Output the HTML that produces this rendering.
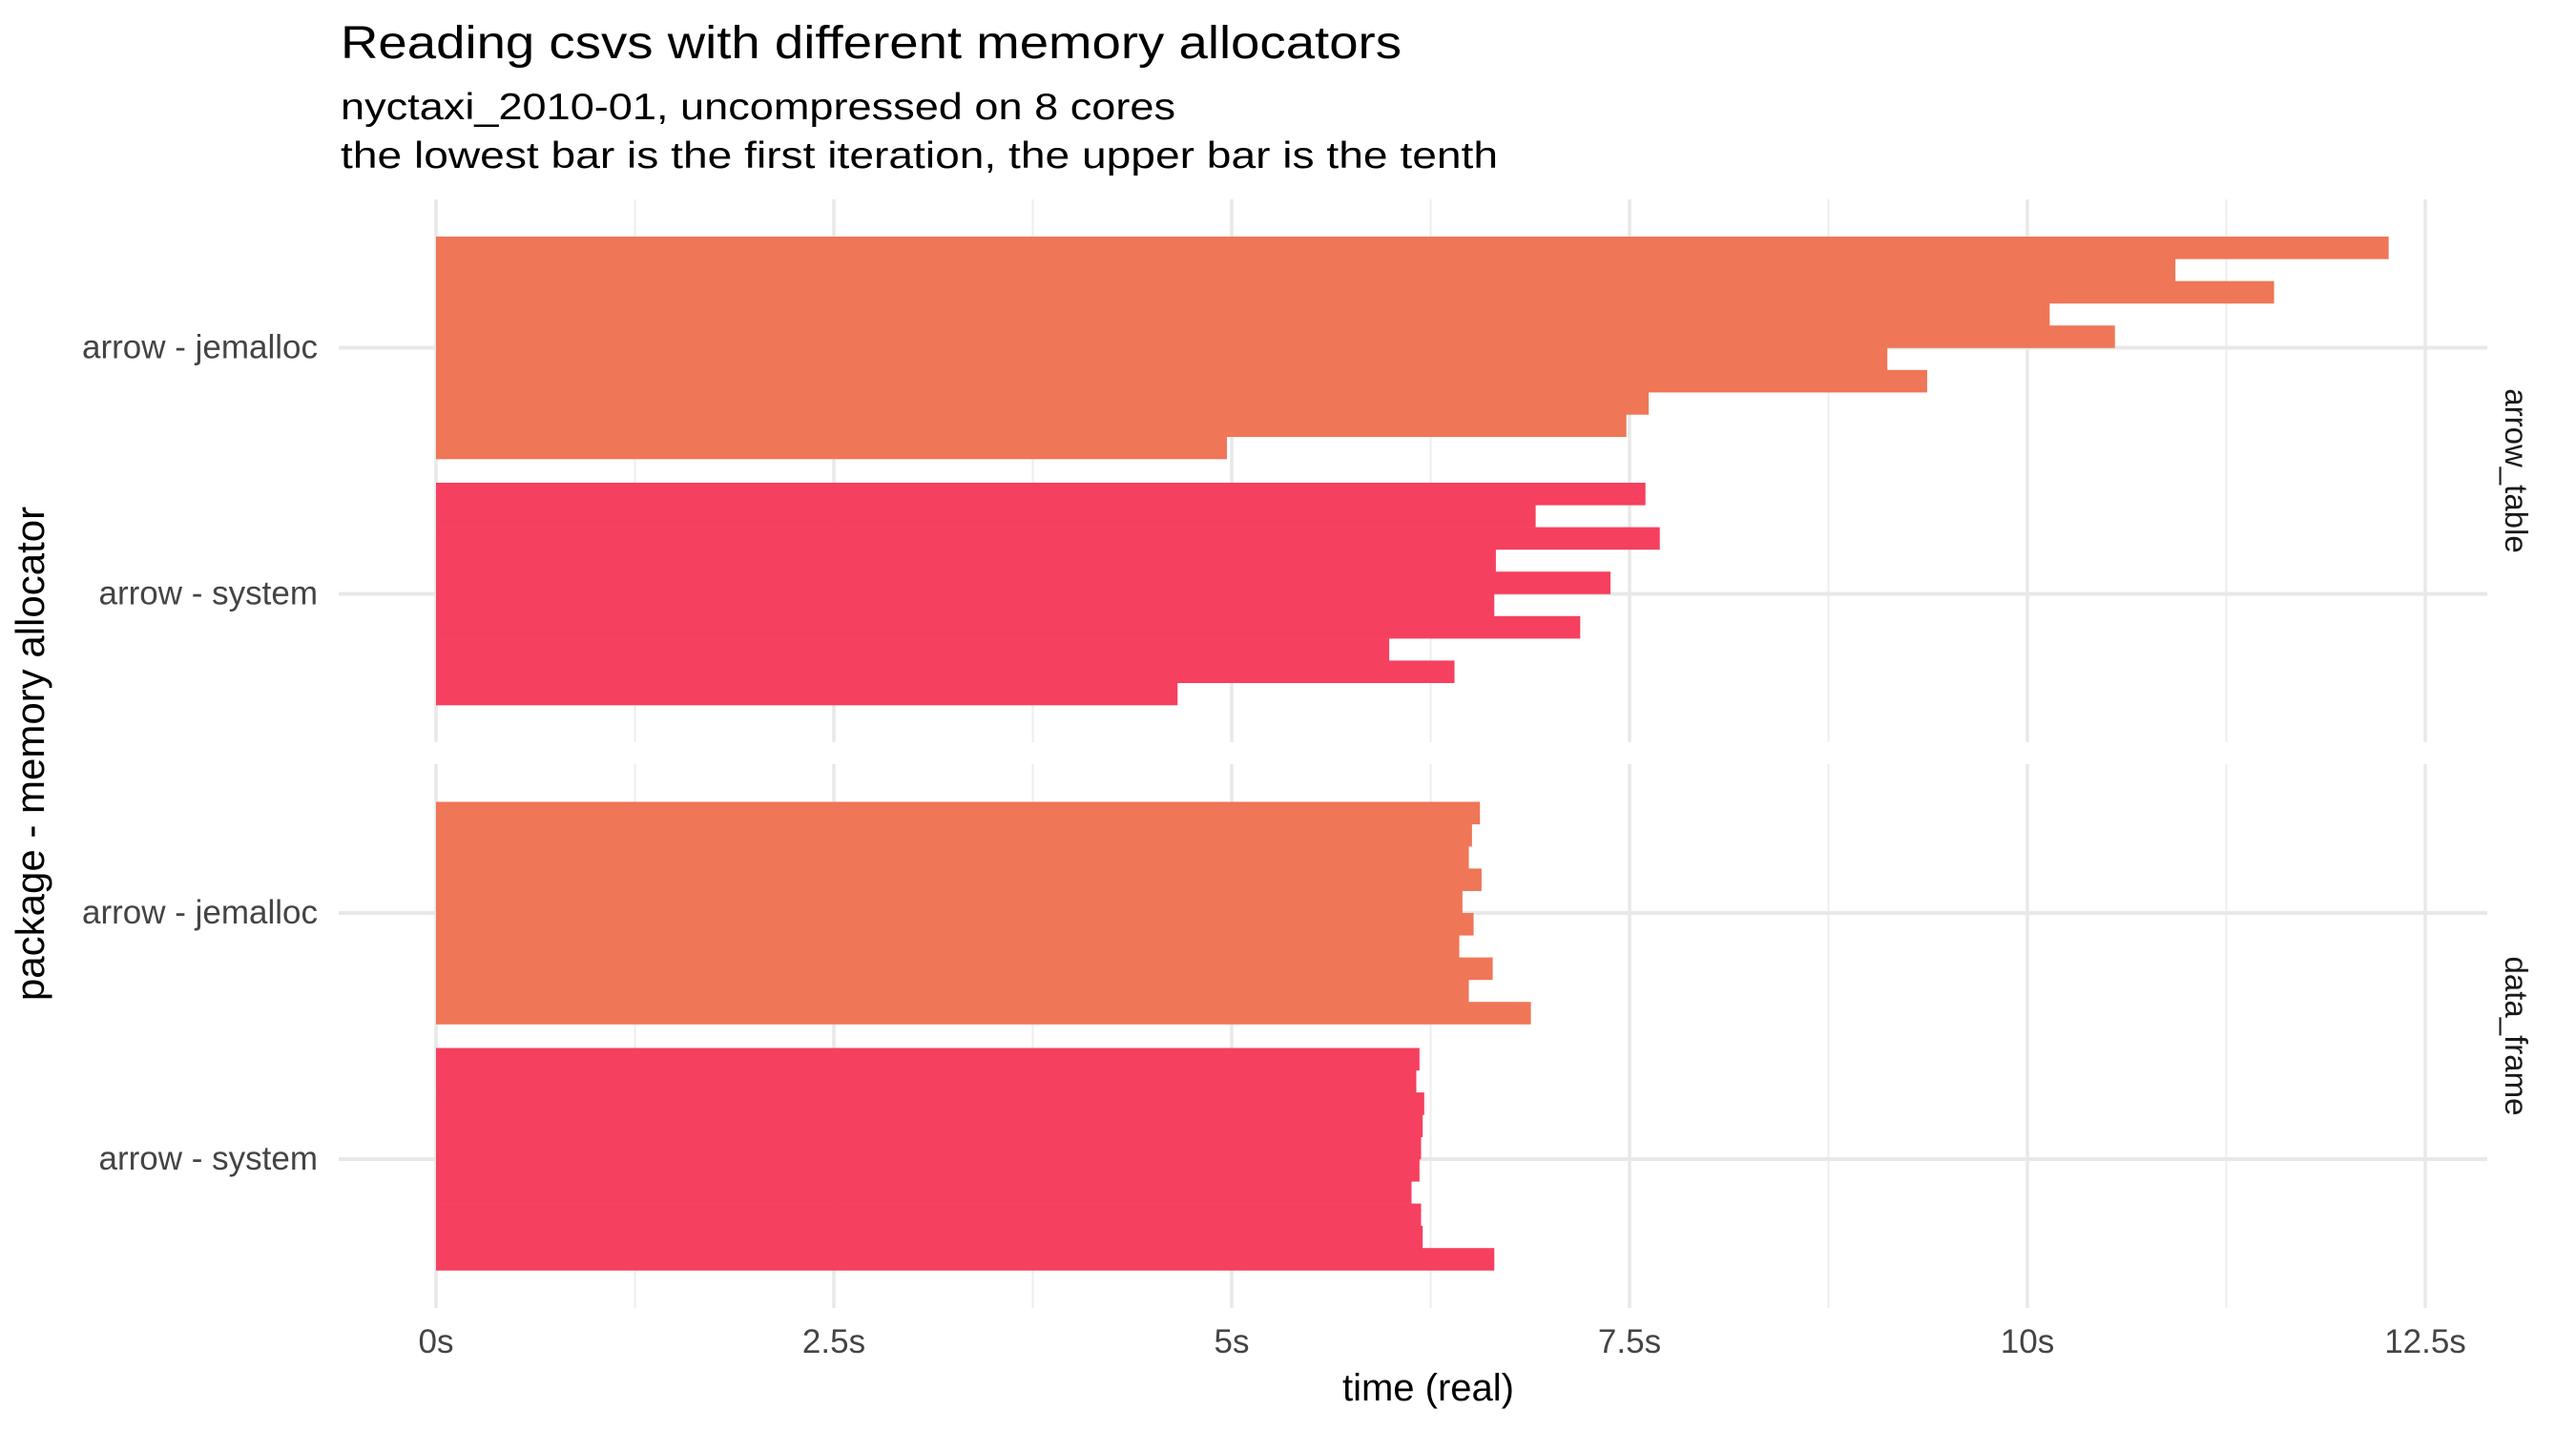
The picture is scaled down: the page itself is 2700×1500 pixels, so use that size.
<!DOCTYPE html>
<html><head><meta charset="utf-8"><style>
html,body{margin:0;padding:0;background:#fff;}
svg{display:block;font-family:"Liberation Sans",sans-serif;}
</style></head><body>
<svg id="chart" width="2700" height="1500" viewBox="0 0 2700 1500" xmlns="http://www.w3.org/2000/svg">
<text x="357" y="61" font-size="48" fill="#000" textLength="1112" lengthAdjust="spacingAndGlyphs">Reading csvs with different memory allocators</text>
<text x="357" y="125" font-size="39" fill="#000" textLength="875" lengthAdjust="spacingAndGlyphs">nyctaxi_2010-01, uncompressed on 8 cores</text>
<text x="357" y="176" font-size="39" fill="#000" textLength="1213" lengthAdjust="spacingAndGlyphs">the lowest bar is the first iteration, the upper bar is the tenth</text>
<g id="grid"></g>
<g id="bars"></g>
<g id="labels"></g>
<text x="1497" y="1468" font-size="40" text-anchor="middle" fill="#000">time (real)</text>
<text transform="translate(46,790) rotate(-90)" font-size="42" text-anchor="middle" fill="#000">package - memory allocator</text>
</svg>
<script>
const panels = ["arrow_table", "data_frame"];
const categories = ["arrow - jemalloc", "arrow - system"];
// values per iteration 1..10 (iteration 1 = lowest bar)
const arrowTableJemalloc = [4.97, 7.48, 7.62, 9.37, 9.12, 10.55, 10.14, 11.55, 10.93, 12.27];
const arrowTableSystem = [4.66, 6.40, 5.99, 7.19, 6.65, 7.38, 6.66, 7.69, 6.91, 7.60];
const dataFrameJemalloc = [6.88, 6.49, 6.64, 6.43, 6.52, 6.45, 6.57, 6.49, 6.51, 6.56];
const dataFrameSystem = [6.65, 6.20, 6.19, 6.13, 6.18, 6.19, 6.20, 6.21, 6.16, 6.18];
const xTicks = [0, 2.5, 5, 7.5, 10, 12.5];
const xTickLabels = ["0s", "2.5s", "5s", "7.5s", "10s", "12.5s"];
const xMinor = [1.25, 3.75, 6.25, 8.75, 11.25];

const NS = "http://www.w3.org/2000/svg";
const colors = ["#EF7656", "#F5405F"];
const seriesByPanel = [[arrowTableJemalloc, arrowTableSystem], [dataFrameJemalloc, dataFrameSystem]];
const panelTop = [209, 801], panelBottom = [778, 1371];
const plotLeft = 355, plotRight = 2607;
function xScale(v) { return 457 + v * 166.8; }
function catCenter(p, c) { const mid = (panelTop[p] + panelBottom[p]) / 2; return c === 0 ? mid - 129 : mid + 129; }
const bandH = 233;
function mk(tag, attrs, parent) { const e = document.createElementNS(NS, tag); for (const k in attrs) e.setAttribute(k, attrs[k]); parent.appendChild(e); return e; }
const grid = document.getElementById("grid"), bars = document.getElementById("bars"), labels = document.getElementById("labels");

panels.forEach((pname, p) => {
  xMinor.forEach(v => {
    const l = mk("line", {x1: xScale(v), x2: xScale(v), y1: panelTop[p], y2: panelBottom[p], stroke: "#eeeeee", "stroke-width": 2}, grid);
    
    
  });
  xTicks.forEach(v => {
    const l = mk("line", {x1: xScale(v), x2: xScale(v), y1: panelTop[p], y2: panelBottom[p], stroke: "#e8e8e8", "stroke-width": 3.5}, grid);
    
    
  });
  categories.forEach((cat, c) => {
    const cy = catCenter(p, c);
    const l = mk("line", {x1: plotLeft, x2: plotRight, y1: cy, y2: cy, stroke: "#e8e8e8", "stroke-width": 4}, grid);
    
    
    const t = mk("text", {x: 333, y: cy + 11, "font-size": 35, "text-anchor": "end", fill: "#444"}, labels);
    t.textContent = cat;
    
    
    const vals = seriesByPanel[p][c];
    const h = bandH / vals.length;
    vals.forEach((v, i) => {
      const y = cy + bandH / 2 - (i + 1) * h;
      const r = mk("rect", {x: xScale(0), y: y, width: xScale(v) - xScale(0), height: h + 0.3, fill: colors[c]}, bars);
      
      
    });
  });
  const sy = (panelTop[p] + panelBottom[p]) / 2;
  const s = mk("text", {transform: "translate(2626," + sy + ") rotate(90)", "font-size": 33, "text-anchor": "middle", fill: "#1a1a1a"}, labels);
  s.textContent = pname;
  
  
});
xTicks.forEach((v, i) => {
  const t = mk("text", {x: xScale(v), y: 1418, "font-size": 35, "text-anchor": "middle", fill: "#444"}, labels);
  t.textContent = xTickLabels[i];
  
  
});
</script>
</body></html>
